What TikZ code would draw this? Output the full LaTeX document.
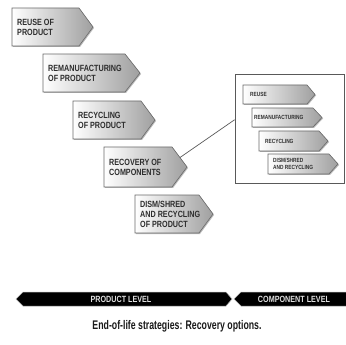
\documentclass[tikz,border=0pt]{standalone}
\usepackage{fontspec}
\setmainfont{Liberation Sans}
\newfontfamily\condfont[FakeStretch=0.8]{Liberation Sans}
\newfontfamily\capfont[FakeStretch=0.7]{Liberation Sans}
\usetikzlibrary{calc}
\definecolor{txtgray}{HTML}{2E2E2E}
\definecolor{edgegray}{HTML}{6A6A6A}
\tikzset{
  arrowbody/.style={draw=edgegray, line width=0.6pt, left color=white, right color=gray!75},
  arrowshadow/.style={fill=gray!55},
  bigtext/.style={anchor=west, align=left, text=txtgray, font=\condfont\bfseries\fontsize{9}{10}\selectfont, inner sep=0pt},
  smalltext/.style={anchor=west, align=left, text=txtgray, font=\condfont\bfseries\fontsize{6}{6.8}\selectfont, inner sep=0pt},
  levelbar/.style={fill=black, draw=gray!60, line width=0.5pt},
  leveltext/.style={text=gray!25, font=\condfont\bfseries\fontsize{9}{10}\selectfont, inner sep=0pt},
  linkline/.style={draw=gray!70!black, line width=0.7pt},
  framebox/.style={draw=gray!70!black, line width=0.7pt, fill=white, minimum width=109pt, minimum height=109pt, inner sep=0pt}
}
% name, xl, yt, yb, xr, xt, text, style, padding
\newcommand\gradarrow[9]{%
  \path[arrowshadow] ({#2+1},{#3+1}) -- ({#5+1},{#3+1}) -- ({#6+1},{(#3+#4)/2+1}) -- ({#5+1},{#4+1}) -- ({#2+1},{#4+1}) -- cycle;
  \path[arrowbody] (#2,#3) -- (#5,#3) -- (#6,{(#3+#4)/2}) -- (#5,#4) -- (#2,#4) -- cycle;
  \node[#8] (#1) at ({#2+#9},{(#3+#4)/2}) {#7};
}
\begin{document}
\begin{tikzpicture}[x=1pt,y=-1pt]
\useasboundingbox (0,0) rectangle (346,345);
% main arrows
\gradarrow{reuse}{12}{8}{46}{79}{93}{REUSE OF\\PRODUCT}{bigtext}{5}
\gradarrow{reman}{43}{54}{92}{125}{140}{REMANUFACTURING\\OF PRODUCT}{bigtext}{5}
\gradarrow{recyc}{73}{101}{139}{141}{155}{RECYCLING\\OF PRODUCT}{bigtext}{5}
\gradarrow{recov}{104}{147}{187}{172}{187}{RECOVERY OF\\COMPONENTS}{bigtext}{5}
\gradarrow{dism}{135}{195}{233}{199}{213}{DISM/SHRED\\AND RECYCLING\\OF PRODUCT}{bigtext}{5}
% component box
\node[framebox] (box) at (289.5,128.5) {};
\gradarrow{sreuse}{243}{85}{104}{307}{315}{REUSE}{smalltext}{7}
\gradarrow{sreman}{252}{108}{127}{313}{322}{REMANUFACTURING}{smalltext}{2}
\gradarrow{srecyc}{259}{131}{151}{319}{328}{RECYCLING}{smalltext}{6}
\gradarrow{sdism}{268}{154}{174}{329}{338}{DISM/SHRED\\AND RECYCLING}{smalltext}{5}
% connector
\coordinate (recovtop) at (180,157.5);
\draw[linkline] (recovtop) -- ($(box.north west)!0.42!(box.south west)$);
% level bars
\path[levelbar] (16,299) -- (23,292) -- (226,292) -- (232,299) -- (226,306) -- (23,306) -- cycle;
\node[leveltext] (prodlevel) at (121,299) {PRODUCT LEVEL};
\path[levelbar] (234,299) -- (241,292) -- (347,292) -- (347,306) -- (241,306) -- cycle;
\node[leveltext] (complevel) at (294,299) {COMPONENT LEVEL};
% caption
\node[font=\capfont\bfseries\fontsize{12.5}{14}\selectfont, text=black!90] (caption) at (177,326) {End-of-life strategies: Recovery options.};
\end{tikzpicture}
\end{document}
